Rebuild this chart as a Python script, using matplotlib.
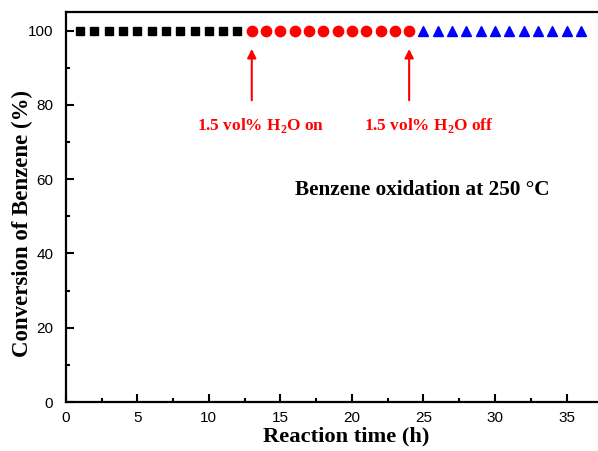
import matplotlib.pyplot as plt
from matplotlib.ticker import MultipleLocator

# reaction time (h) and benzene conversion (%) for each stage
dry_time = [1, 2, 3, 4, 5, 6, 7, 8, 9, 10, 11, 12]
dry_conv = [100] * 12
wet_time = [13, 14, 15, 16, 17, 18, 19, 20, 21, 22, 23, 24]
wet_conv = [100] * 12
after_time = [25, 26, 27, 28, 29, 30, 31, 32, 33, 34, 35, 36]
after_conv = [100] * 12

serif = ['Liberation Serif', 'DejaVu Serif']
sans = ['Liberation Sans', 'DejaVu Sans']

fig = plt.figure(figsize=(5.98, 4.51), dpi=100)
ax = fig.add_axes([0.110, 0.1086, 0.89, 0.8648])

ax.plot(dry_time, dry_conv, 's', color='black', markersize=6.3, linestyle='none')
ax.plot(wet_time, wet_conv, 'o', color='red', markersize=7.4, linestyle='none')
ax.plot(after_time, after_conv, '^', color='blue', markersize=7.5, linestyle='none')

# arrows marking when water was switched on and off
arrow = dict(arrowstyle='-|>', color='red', lw=1.5, mutation_scale=13)
ax.annotate('', xy=(13, 95.8), xytext=(13, 80.5), arrowprops=arrow)
ax.annotate('', xy=(24, 95.8), xytext=(24, 80.5), arrowprops=arrow)
ax.text(13.65, 74.5, '1.5 vol% H$_\\mathregular{2}$O on', color='red', fontsize=12.4,
        fontweight='bold', family=serif, ha='center', va='center')
ax.text(25.4, 74.5, '1.5 vol% H$_\\mathregular{2}$O off', color='red', fontsize=12.4,
        fontweight='bold', family=serif, ha='center', va='center')
ax.text(16.0, 57.1, 'Benzene oxidation at 250 \u00b0C', color='black', fontsize=15.3,
        fontweight='bold', family=serif, ha='left', va='center')

ax.set_xlim(0, 37.2)
ax.set_ylim(0, 105)
ax.xaxis.set_major_locator(MultipleLocator(5))
ax.xaxis.set_minor_locator(MultipleLocator(2.5))
ax.yaxis.set_major_locator(MultipleLocator(20))
ax.yaxis.set_minor_locator(MultipleLocator(10))
ax.tick_params(which='both', direction='in', top=False, right=False, width=1.5)
ax.tick_params(which='major', length=6, labelsize=11)
ax.tick_params(axis='y', which='major', pad=9)
ax.tick_params(axis='x', which='major', pad=6.5)
ax.tick_params(which='minor', length=3)
for lab in ax.get_xticklabels() + ax.get_yticklabels():
    lab.set_family(sans)

for side in ['left', 'bottom', 'top']:
    ax.spines[side].set_linewidth(1.6)
ax.spines['right'].set_visible(False)

ax.set_xlabel('Reaction time (h)', fontsize=16.2, fontweight='bold', family=serif)
ax.set_ylabel('Conversion of Benzene (%)', fontsize=16.5, fontweight='bold', family=serif)
ax.xaxis.set_label_coords(0.527, -0.064)
ax.yaxis.set_label_coords(-0.062, 0.459)

fig.savefig('out.png', dpi=100)
